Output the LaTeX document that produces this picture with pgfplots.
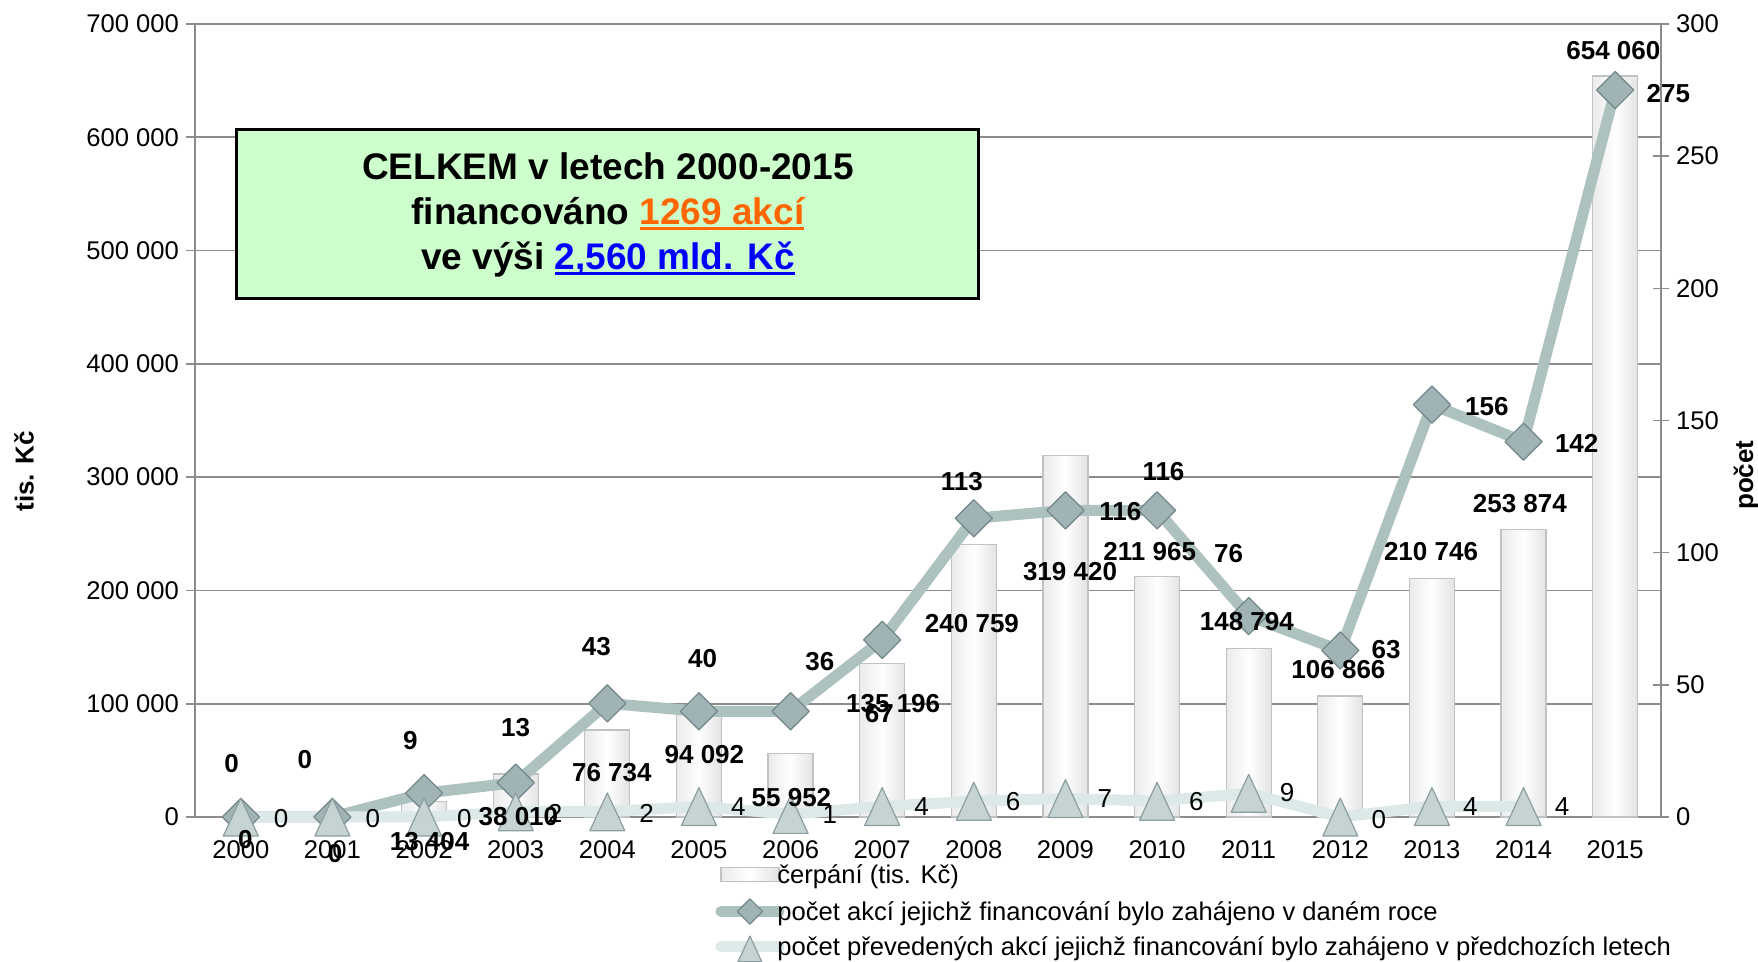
\documentclass[border=0pt]{standalone}
\usepackage{fontspec}
\setmainfont{Liberation Sans}
\usepackage{pgfplots}
\pgfplotsset{compat=1.18}

\definecolor{gridc}{RGB}{140,140,140}
\definecolor{diamline}{RGB}{173,193,191}
\definecolor{diamfill}{RGB}{160,180,182}
\definecolor{diamdraw}{RGB}{115,135,138}
\definecolor{triline}{RGB}{221,232,232}
\definecolor{trifill}{RGB}{197,211,211}
\definecolor{tridraw}{RGB}{140,158,160}
\definecolor{boxfill}{RGB}{204,255,204}
\definecolor{orng}{RGB}{255,102,0}
\definecolor{blu}{RGB}{0,0,255}
\definecolor{barline}{RGB}{190,196,196}

\newcommand\ulc[2]{\setbox0\hbox{#2}\rlap{\color{#1}\rule[-3pt]{\wd0}{1.5pt}}{\color{#1}\box0}}

\begin{document}
\begin{tikzpicture}
\path[use as bounding box] (0,0) rectangle (879pt,481pt);
\tikzset{bl/.style={font=\fontsize{13}{15}\selectfont\bfseries, inner sep=0pt, anchor=center},
         rl/.style={font=\fontsize{13}{15}\selectfont, inner sep=0pt, anchor=center}}
\pgfplotsset{barsty/.style={ybar, bar shift=0pt, bar width=22.5pt, draw=barline, line width=0.6pt,
   left color=gray!16, right color=gray!22, middle color=white, forget plot}}
\begin{axis}[
  at={(97.5pt,72.5pt)}, anchor=south west,
  scale only axis, width=733pt, height=396.5pt,
  xmin=-0.5, xmax=15.5, ymin=0, ymax=700000,
  clip=false,
  axis y line*=left, axis x line*=bottom,
  axis line style={gridc, line width=0.8pt},
  tick align=outside, major tick length=4.5pt,
  tick style={gridc, line width=0.8pt},
  xtick={0,...,15},
  xticklabels={2000,2001,2002,2003,2004,2005,2006,2007,2008,2009,2010,2011,2012,2013,2014,2015},
  x tick style={draw=none},
  extra x ticks={-0.5,0.5,...,15.5}, extra x tick labels={},
  extra x tick style={tick style={draw=gridc, line width=0.8pt}, major tick length=5pt, grid=none},
  ytick={0,100000,...,700000},
  yticklabels={0,100 000,200 000,300 000,400 000,500 000,600 000,700 000},
  scaled y ticks=false,
  ymajorgrids, grid style={gridc, line width=0.8pt},
  tick label style={font=\fontsize{12.8}{15}\selectfont},
  xticklabel style={yshift=-3.8pt},
  ylabel={tis. Kč},
  ylabel style={font=\fontsize{13}{15}\selectfont\bfseries, at={(axis description cs:-0.1166,0.436)}, anchor=center},
]
\addplot[barsty] coordinates {(2,13404)};
\addplot[barsty] coordinates {(3,38010)};
\addplot[barsty] coordinates {(4,76734)};
\addplot[barsty] coordinates {(5,94092)};
\addplot[barsty] coordinates {(6,55952)};
\addplot[barsty] coordinates {(7,135196)};
\addplot[barsty] coordinates {(8,240759)};
\addplot[barsty] coordinates {(9,319420)};
\addplot[barsty] coordinates {(10,211965)};
\addplot[barsty] coordinates {(11,148794)};
\addplot[barsty] coordinates {(12,106866)};
\addplot[barsty] coordinates {(13,210746)};
\addplot[barsty] coordinates {(14,253874)};
\addplot[barsty] coordinates {(15,654060)};

\node[draw=black, line width=1.5pt, fill=boxfill, minimum width=371pt, minimum height=84.5pt, align=center,
      font=\fontsize{18.5}{22.5}\selectfont\bfseries] at (axis description cs:0.2817,0.7598)
  {CELKEM v letech 2000-2015\\ financováno \ulc{orng}{1269 akcí}\\ ve výši \ulc{blu}{2,560 mld. Kč}};
\end{axis}

\begin{axis}[
  at={(97.5pt,72.5pt)}, anchor=south west,
  scale only axis, width=733pt, height=396.5pt,
  xmin=-0.5, xmax=15.5, ymin=0, ymax=300,
  clip=false,
  axis y line*=right, axis x line=none,
  axis line style={gridc, line width=0.8pt},
  tick align=center, major tick length=8pt,
  tick style={gridc, line width=0.8pt},
  ytick={0,50,...,300},
  /pgf/number format/assume math mode=true,
  tick label style={font=\fontsize{12.8}{15}\selectfont},
  ylabel={počet},
  ylabel style={font=\fontsize{13}{15}\selectfont\bfseries, at={(axis description cs:1.058,0.431)}, anchor=center},
  legend style={at={(0.3547,-0.058)}, anchor=north west, draw=none, fill=none, inner sep=0pt,
     font=\fontsize{12.8}{14}\selectfont, row sep=3.7pt,
     nodes={inner sep=0pt, text height=10pt, text depth=4pt},
     /tikz/every odd column/.append style={column sep=-3.5pt}},
  legend cell align=left,
  legend image code/.code={\draw[#1, line cap=round, mark repeat=2, mark phase=2, yshift=1.5pt,
      every mark/.append style={scale=0.68}] plot coordinates {(0pt,0pt) (14.5pt,0pt) (29pt,0pt)};},
]
\addlegendimage{legend image code/.code={\draw[draw=barline, line width=0.6pt, left color=gray!16, right color=gray!22, middle color=white] (0pt,-2pt) rectangle (29pt,5pt);}}
\addlegendentry{čerpání (tis. Kč)}

\addplot[diamline, line width=5.5pt, line join=round, mark=diamond*, mark size=9.3pt,
  mark options={xscale=1.333, fill=diamfill, draw=diamdraw, line width=0.6pt}]
  coordinates {(0,0) (1,0) (2,9) (3,13) (4,43) (5,40) (6,40) (7,67) (8,113) (9,116) (10,116) (11,76) (12,63) (13,156) (14,142) (15,275)};
\addlegendentry{počet akcí jejichž financování bylo zahájeno v daném roce}

\addplot[triline, line width=5.5pt, line join=round, mark=triangle*, mark size=10.1pt,
  mark options={yshift=-3.2pt, yscale=1.25, fill=trifill, draw=tridraw, line width=0.6pt}]
  coordinates {(0,0) (1,0) (2,0) (3,2) (4,2) (5,4) (6,1) (7,4) (8,6) (9,7) (10,6) (11,9) (12,0) (13,4) (14,4)};
\addlegendentry{počet převedených akcí jejichž financování bylo zahájeno v předchozích letech}
\end{axis}

% labels on top of everything (same frame as the right axis)
\begin{axis}[
  at={(97.5pt,72.5pt)}, anchor=south west,
  scale only axis, width=733pt, height=396.5pt,
  xmin=-0.5, xmax=15.5, ymin=0, ymax=300,
  clip=false, hide axis,
]
% bar value labels (in right-axis units: value * 300/700000)
\node[bl] at (axis cs:0.05,-8.7) {0};
\node[bl] at (axis cs:1.03,-13.71) {0};
\node[bl] at (axis cs:2.06,-9.34) {13 404};
\node[bl] at (axis cs:3.03,0) {38 010};
\node[bl] at (axis cs:4.05,16.76) {76 734};
\node[bl] at (axis cs:5.06,23.57) {94 092};
\node[bl] at (axis cs:6.01,7.5) {55 952};
\node[bl] at (axis cs:7.12,42.73) {135 196};
\node[bl] at (axis cs:7.98,73.29) {240 759};
\node[bl] at (axis cs:9.05,92.79) {319 420};
\node[bl] at (axis cs:9.92,100.37) {211 965};
\node[bl] at (axis cs:10.98,73.89) {148 794};
\node[bl] at (axis cs:11.98,55.63) {106 866};
\node[bl] at (axis cs:12.99,100.37) {210 746};
\node[bl] at (axis cs:13.96,118.63) {253 874};
\node[bl] at (axis cs:14.98,290.14) {654 060};

% diamond series labels
\node[bl] at (axis cs:-0.1,20.3) {0};
\node[bl] at (axis cs:0.70,21.8) {0};
\node[bl] at (axis cs:1.85,29.1) {9};
\node[bl] at (axis cs:3.0,33.8) {13};
\node[bl] at (axis cs:3.88,64.4) {43};
\node[bl] at (axis cs:5.04,60.1) {40};
\node[bl] at (axis cs:6.32,58.8) {36};
\node[bl] at (axis cs:6.97,39.3) {67};
\node[bl] at (axis cs:7.87,126.9) {113};
\node[bl] at (axis cs:9.6,115.5) {116};
\node[bl] at (axis cs:10.07,130.6) {116};
\node[bl] at (axis cs:10.78,99.8) {76};
\node[bl] at (axis cs:12.5,63.2) {63};
\node[bl] at (axis cs:13.6,155.2) {156};
\node[bl] at (axis cs:14.58,141.4) {142};
\node[bl] at (axis cs:15.58,273.8) {275};

% triangle series labels
\node[rl] at (axis cs:0.44,-0.5) {0};
\node[rl] at (axis cs:1.44,-0.5) {0};
\node[rl] at (axis cs:2.44,-0.5) {0};
\node[rl] at (axis cs:3.43,1.4) {2};
\node[rl] at (axis cs:4.43,1.4) {2};
\node[rl] at (axis cs:5.43,4) {4};
\node[rl] at (axis cs:6.43,1) {1};
\node[rl] at (axis cs:7.43,4) {4};
\node[rl] at (axis cs:8.43,6) {6};
\node[rl] at (axis cs:9.43,7) {7};
\node[rl] at (axis cs:10.43,6) {6};
\node[rl] at (axis cs:11.42,9.2) {9};
\node[rl] at (axis cs:12.42,-1) {0};
\node[rl] at (axis cs:13.42,4) {4};
\node[rl] at (axis cs:14.42,4) {4};
\end{axis}
\end{tikzpicture}
\end{document}
